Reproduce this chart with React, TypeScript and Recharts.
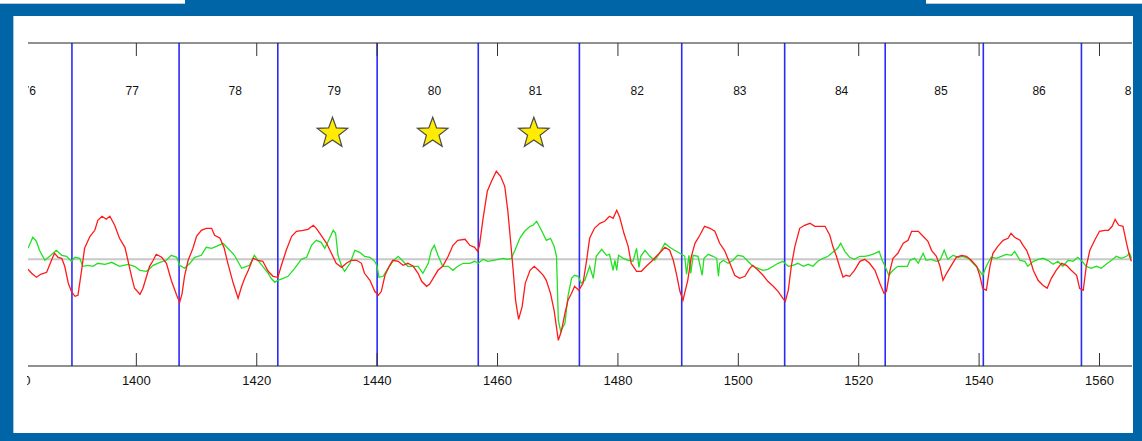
import { ComposedChart, Line, Scatter, XAxis, YAxis, ReferenceLine } from 'recharts'

// sample positions and amplitudes (amplitude in px above the grey baseline)
const redT = [1382.0, 1382.6, 1383.4, 1384.1, 1385.1, 1385.9, 1386.4, 1387.0, 1387.6, 1388.1, 1388.7, 1389.2, 1389.8, 1390.3, 1390.9, 1391.4, 1392.3, 1393.1, 1393.6, 1394.3, 1395.0, 1395.6, 1396.4, 1397.2, 1398.1, 1398.6, 1399.2, 1399.7, 1400.6, 1401.1, 1401.7, 1402.2, 1402.8, 1403.3, 1404.2, 1405.0, 1405.8, 1406.7, 1407.2, 1407.6, 1408.0, 1408.6, 1409.4, 1410.0, 1410.8, 1411.6, 1412.5, 1413.0, 1413.9, 1414.6, 1415.2, 1416.1, 1416.9, 1417.5, 1418.0, 1418.6, 1419.4, 1420.2, 1421.0, 1421.9, 1422.7, 1423.5, 1424.1, 1424.9, 1425.8, 1426.6, 1427.7, 1428.5, 1429.4, 1429.9, 1430.7, 1431.6, 1432.4, 1433.2, 1434.1, 1434.9, 1435.7, 1436.6, 1437.4, 1437.9, 1438.8, 1439.6, 1440.2, 1440.7, 1441.3, 1442.1, 1442.6, 1443.5, 1444.3, 1445.1, 1446.0, 1446.8, 1447.4, 1448.2, 1448.7, 1449.3, 1450.1, 1450.9, 1451.8, 1452.6, 1453.4, 1454.6, 1455.4, 1456.2, 1456.7, 1457.0, 1457.6, 1458.3, 1459.0, 1459.8, 1460.5, 1461.2, 1461.7, 1462.2, 1462.6, 1463.0, 1463.5, 1464.1, 1464.6, 1465.4, 1466.1, 1466.8, 1467.6, 1468.1, 1468.8, 1469.4, 1470.1, 1470.6, 1471.2, 1471.7, 1472.3, 1472.8, 1473.5, 1474.2, 1474.8, 1475.3, 1476.1, 1477.0, 1477.8, 1478.6, 1479.2, 1479.8, 1480.3, 1481.0, 1481.7, 1482.2, 1483.1, 1483.9, 1484.7, 1485.6, 1486.4, 1487.2, 1487.8, 1488.6, 1489.2, 1489.7, 1490.3, 1490.8, 1491.6, 1492.2, 1492.8, 1493.6, 1494.4, 1495.3, 1496.1, 1496.9, 1497.7, 1498.6, 1499.4, 1500.2, 1501.1, 1501.9, 1502.4, 1503.3, 1504.1, 1504.9, 1505.8, 1506.6, 1507.4, 1507.8, 1508.3, 1508.8, 1509.4, 1510.2, 1511.0, 1511.9, 1512.7, 1513.5, 1514.4, 1515.2, 1515.7, 1516.3, 1516.8, 1517.4, 1517.9, 1518.5, 1519.3, 1520.2, 1521.0, 1521.8, 1522.7, 1523.5, 1524.2, 1524.6, 1525.2, 1525.7, 1526.5, 1527.4, 1528.2, 1528.8, 1529.9, 1530.7, 1531.5, 1532.1, 1532.9, 1533.5, 1534.0, 1534.6, 1535.4, 1536.2, 1537.1, 1537.9, 1538.7, 1539.6, 1540.1, 1540.6, 1541.2, 1541.8, 1542.3, 1543.1, 1544.0, 1544.8, 1545.3, 1545.9, 1546.8, 1547.3, 1547.9, 1548.4, 1549.0, 1549.8, 1550.6, 1551.3, 1552.0, 1552.8, 1553.7, 1554.5, 1555.3, 1556.2, 1556.7, 1557.3, 1557.8, 1558.4, 1559.2, 1560.0, 1560.9, 1561.5, 1562.1, 1562.6, 1563.2, 1563.9, 1564.5, 1565.0, 1565.3]
const redV = [-10, -14, -18, -15, -13, -1, 6, 2, 1, -7, -24, -32, -37, -36, -11, 11, 23, 29, 39, 43, 40, 43, 34, 21, 12, -1, -17, -29, -35, -29, -17, -7, -1, 5, 2, -4, -21, -36, -43, -34, -17, -1, 11, 23, 29, 31, 31, 24, 21, 11, -4, -24, -39, -27, -19, -11, 1, -1, -2, -12, -17, -18, -6, 9, 23, 28, 29, 30, 34, 31, 24, 16, 6, -4, -8, -4, -1, -1, -4, -14, -21, -32, -36, -32, -16, -6, -1, -2, -6, -4, -7, -14, -22, -27, -25, -19, -11, -7, 3, 14, 19, 20, 14, 12, 8, 14, 41, 68, 78, 88, 83, 73, 49, 16, -11, -41, -60, -47, -24, -11, -7, -11, -16, -21, -34, -51, -81, -72, -54, -41, -34, -27, -31, -24, -1, 21, 31, 36, 38, 43, 41, 49, 42, 26, 13, -4, -12, -12, -7, -2, 3, 8, 12, 9, -1, -14, -32, -41, -21, 3, 16, 24, 33, 31, 28, 16, 9, -4, -16, -19, -17, -9, -6, -11, -16, -22, -27, -32, -39, -42, -31, -7, 13, 31, 34, 36, 33, 33, 33, 24, 13, 3, -7, -18, -16, -17, -11, -2, 0, -4, -11, -24, -34, -32, -11, 1, 6, 16, 19, 28, 28, 23, 18, 9, 3, -7, -21, -14, -6, 2, 4, 3, -1, -7, -16, -29, -31, -7, 6, 13, 19, 21, 26, 22, 19, 14, 9, 1, -11, -21, -26, -29, -19, -11, -4, -6, -11, -16, -29, -31, -7, 9, 19, 28, 29, 29, 33, 40, 34, 33, 16, 3, -2]

const greenT = [1382.0, 1382.8, 1383.4, 1383.9, 1384.8, 1385.6, 1386.7, 1387.6, 1388.4, 1389.2, 1389.8, 1390.6, 1391.1, 1392.0, 1392.8, 1393.6, 1394.8, 1395.9, 1397.2, 1398.6, 1399.7, 1400.6, 1401.7, 1402.8, 1403.9, 1405.0, 1405.8, 1406.7, 1407.2, 1408.0, 1408.9, 1409.7, 1410.8, 1411.6, 1412.5, 1413.3, 1414.4, 1415.2, 1416.3, 1417.5, 1418.3, 1418.8, 1419.6, 1420.2, 1421.0, 1421.9, 1422.4, 1423.0, 1423.5, 1424.4, 1425.2, 1426.3, 1427.4, 1428.3, 1429.1, 1429.9, 1430.7, 1431.3, 1432.1, 1432.7, 1433.1, 1433.5, 1434.1, 1434.6, 1435.5, 1436.3, 1437.1, 1437.9, 1438.8, 1439.6, 1440.0, 1440.3, 1441.0, 1441.8, 1442.6, 1443.5, 1444.3, 1445.1, 1446.0, 1446.8, 1447.6, 1448.5, 1449.0, 1449.5, 1450.1, 1450.9, 1451.8, 1452.6, 1453.4, 1454.3, 1455.4, 1456.2, 1456.8, 1457.6, 1458.4, 1459.3, 1460.1, 1460.9, 1461.7, 1462.3, 1462.9, 1463.7, 1464.5, 1465.4, 1465.9, 1466.5, 1467.3, 1468.1, 1468.8, 1469.4, 1469.8, 1470.1, 1470.5, 1471.2, 1471.7, 1472.3, 1472.8, 1473.4, 1473.9, 1474.5, 1475.3, 1475.9, 1476.4, 1477.3, 1478.1, 1478.6, 1479.2, 1479.5, 1479.8, 1480.1, 1480.9, 1481.7, 1482.5, 1483.1, 1483.5, 1483.8, 1484.5, 1485.3, 1486.1, 1486.9, 1487.8, 1488.6, 1489.4, 1490.3, 1491.1, 1491.4, 1491.8, 1492.1, 1492.5, 1493.3, 1494.0, 1494.3, 1495.0, 1495.8, 1496.4, 1496.7, 1496.9, 1497.5, 1498.3, 1499.1, 1499.9, 1500.8, 1501.6, 1502.4, 1503.3, 1504.1, 1504.9, 1505.8, 1506.6, 1507.4, 1508.3, 1509.1, 1509.9, 1510.8, 1511.6, 1512.4, 1513.2, 1514.1, 1514.9, 1515.7, 1516.5, 1517.0, 1517.7, 1518.5, 1519.3, 1520.2, 1521.0, 1521.8, 1522.7, 1523.4, 1523.9, 1524.3, 1525.0, 1525.7, 1526.5, 1527.4, 1528.1, 1528.5, 1529.3, 1529.9, 1530.7, 1531.2, 1532.1, 1532.9, 1533.5, 1534.2, 1534.8, 1535.7, 1536.5, 1537.3, 1538.2, 1539.0, 1539.8, 1540.6, 1541.2, 1542.0, 1542.9, 1543.7, 1544.5, 1545.4, 1545.9, 1546.8, 1547.6, 1548.1, 1549.0, 1549.8, 1550.6, 1551.4, 1552.3, 1553.1, 1553.9, 1554.8, 1555.6, 1556.4, 1557.1, 1557.8, 1558.6, 1559.5, 1560.3, 1561.1, 1562.0, 1562.8, 1563.6, 1564.5, 1565.0, 1565.3]
const greenV = [11, 22, 18, 9, -1, 3, 9, 4, 3, -2, 2, 1, -7, -6, -7, -4, -5, -3, -7, -5, -7, -11, -12, -6, -3, -1, 4, 2, -6, -9, -4, 2, 4, 12, 11, 13, 16, 11, 4, -9, -7, -6, 4, -1, -7, -14, -19, -23, -21, -19, -17, -9, 0, 2, 14, 19, 17, 11, 21, 29, 26, 4, -7, -12, -4, 9, 7, 3, 2, -2, -7, -18, -17, -9, -2, 3, -2, -7, -7, -7, -14, -4, 9, 14, 4, -7, -7, -11, -7, -4, -4, -2, -4, 0, -2, -1, 0, 1, 0, 1, 9, 21, 28, 33, 34, 38, 29, 19, 21, 13, 3, -61, -72, -64, -37, -19, -16, -17, -24, -21, -7, -19, 3, 10, 4, 5, -11, -1, -11, 4, 1, -1, -2, 11, -8, 3, 9, 3, -1, 6, 16, 12, 9, 6, 3, -15, 4, -14, 4, 3, -16, 1, 5, 3, 1, -17, -4, -1, -4, -1, 4, 3, -2, -7, -9, -11, -10, -7, -4, -2, -7, -6, -4, -7, -5, -7, -2, 1, 3, 7, 11, 16, 8, 2, 0, 3, 3, 4, 6, 8, -1, -6, -16, -11, -7, -7, -7, -1, 1, -4, 6, -1, 0, -2, -1, 9, 0, 4, 2, 3, 1, -4, -9, -16, -7, 2, 1, 3, 5, 4, 8, -1, -2, -7, -2, 0, 1, -1, -5, -2, -7, -1, -2, 2, -2, -7, -9, -7, -9, -5, -1, 3, 1, 3, 6, 1]

// beat boundaries (blue lines) and beat numbers between them
const beatEdges = [1372.9, 1389.3, 1407.1, 1423.5, 1440.0, 1456.8, 1473.6, 1490.6, 1507.7, 1524.4, 1540.7, 1557.0, 1571.4]
const beatNumbers = [76, 77, 78, 79, 80, 81, 82, 83, 84, 85, 86, 87]
const starredBeats = [79, 80, 81]
const xTicks = [1380, 1400, 1420, 1440, 1460, 1480, 1500, 1520, 1540, 1560]

const X_DOMAIN = [1382, 1565.4]
const Y_DOMAIN = [-106.7, 216.3]
const LABEL_LEVEL = 168
const STAR_LEVEL = 126

const BLUE = '#0065a6'
const FONT = 'Arial, "Liberation Sans", sans-serif'

const redData = redT.map((t, i) => ({ t, v: redV[i] }))
const greenData = greenT.map((t, i) => ({ t, v: greenV[i] }))
const beatMid = (i: number) => (beatEdges[i] + beatEdges[i + 1]) / 2
const labelData = beatNumbers.map((beat, i) => ({ t: beatMid(i), v: LABEL_LEVEL, beat }))
const starData = starredBeats.map((beat) => ({ t: beatMid(beatNumbers.indexOf(beat)), v: STAR_LEVEL, beat }))

const BottomTick = (props: any) => {
  const { x, y, payload } = props
  return (
    <g>
      <line x1={x} x2={x} y1={y} y2={y - 13} stroke="#333" />
      <text x={x} y={y + 19} textAnchor="middle" fontSize={13} fontFamily={FONT} fill="#111">
        {payload.value}
      </text>
    </g>
  )
}

// top axis only carries the inward tick marks
const TopTick = (props: any) => {
  const { x, y } = props
  return <line x1={x} x2={x} y1={y} y2={y + 13} stroke="#333" />
}

const BeatLabel = (props: any) => (
  <text x={props.cx} y={props.cy + 4} textAnchor="start" fontSize={12} fontFamily={FONT} fill="#111">
    {props.payload.beat}
  </text>
)

const Star = (props: any) => {
  const cx = props.cx + 5
  const cy = props.cy
  const pts: string[] = []
  for (let k = 0; k < 10; k++) {
    const r = k % 2 === 0 ? 16 : 6.6
    const a = -Math.PI / 2 + (k * Math.PI) / 5
    pts.push(`${cx + r * Math.cos(a)},${cy + r * Math.sin(a)}`)
  }
  return <polygon points={pts.join(' ')} fill="#ffec00" stroke="#4a4a4a" strokeWidth={1.2} />
}

export default function App() {
  return (
    <div style={{ position: 'absolute', left: 0, top: 0, width: 1142, height: 441, background: '#fff', overflow: 'hidden' }}>
      {/* window frame */}
      <div style={{ position: 'absolute', left: 0, top: 3, width: 1142, height: 1, background: '#b8c8d8' }} />
      <div style={{ position: 'absolute', left: 0, top: 4, width: 1142, height: 12, background: BLUE }} />
      <div style={{ position: 'absolute', left: 185, top: 0, width: 741, height: 16, background: BLUE }} />
      <div style={{ position: 'absolute', left: 0, top: 4, width: 13, height: 437, background: BLUE }} />
      <div style={{ position: 'absolute', left: 13, top: 16, width: 1, height: 417, background: '#a9c3dc' }} />
      <div style={{ position: 'absolute', left: 1133, top: 4, width: 9, height: 437, background: BLUE }} />
      <div style={{ position: 'absolute', left: 0, top: 433, width: 1142, height: 8, background: BLUE }} />

      <div style={{ position: 'absolute', left: 27, top: 16, width: 1106, height: 417, overflow: 'hidden' }}>
        <div style={{ position: 'absolute', left: -27, top: -16 }}>
          <ComposedChart width={1142} height={441} margin={{ top: 42, right: 10, bottom: 45, left: 28 }}>
            <XAxis
              dataKey="t"
              type="number"
              domain={X_DOMAIN}
              ticks={xTicks}
              allowDataOverflow
              height={30}
              tickSize={0}
              tickMargin={0}
              tickLine={false}
              axisLine={{ stroke: '#222' }}
              tick={<BottomTick />}
              interval={0}
            />
            <XAxis
              xAxisId="top"
              orientation="top"
              dataKey="t"
              type="number"
              domain={X_DOMAIN}
              ticks={xTicks}
              allowDataOverflow
              height={1}
              tickSize={0}
              tickMargin={0}
              tickLine={false}
              axisLine={{ stroke: '#222' }}
              tick={<TopTick />}
              interval={0}
            />
            <YAxis hide dataKey="v" type="number" domain={Y_DOMAIN} allowDataOverflow />
            <ReferenceLine y={0} stroke="#c8c8c8" strokeWidth={2} />
            {beatEdges.map((b) => (
              <ReferenceLine key={b} x={b} stroke="#2a2aff" strokeWidth={1.6} />
            ))}
            <Line data={greenData} dataKey="v" stroke="#22e022" strokeWidth={1.3} dot={false} isAnimationActive={false} />
            <Line data={redData} dataKey="v" stroke="#ff1a1a" strokeWidth={1.3} dot={false} isAnimationActive={false} />
            <Scatter data={labelData} dataKey="v" shape={<BeatLabel />} isAnimationActive={false} />
            <Scatter data={starData} dataKey="v" shape={<Star />} isAnimationActive={false} />
          </ComposedChart>
        </div>
      </div>
    </div>
  )
}
